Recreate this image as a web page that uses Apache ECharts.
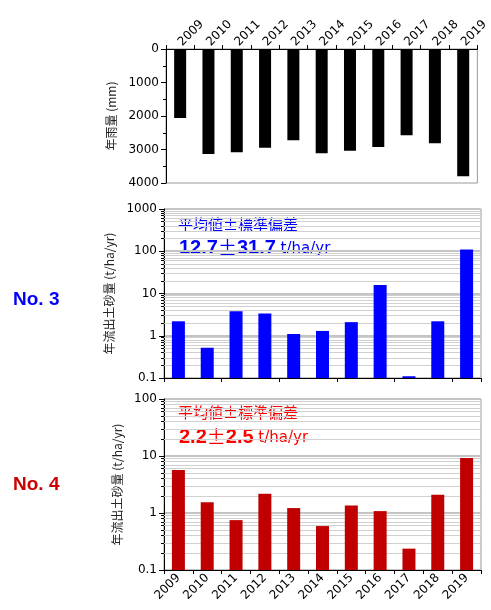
<!DOCTYPE html>
<html>
<head>
<meta charset="utf-8">
<script src="https://cdn.jsdelivr.net/npm/echarts@6/dist/echarts.min.js"></script>
<style>
html,body{margin:0;padding:0;background:#fff;}
#chart{width:491px;height:610px;}
</style>
</head>
<body>
<div id="chart"></div>
<script>
// Annual rainfall and sediment yield, 2009-2019
const years = ['2009','2010','2011','2012','2013','2014','2015','2016','2017','2018','2019'];
const rainfall = [2060, 3134, 3085, 2945, 2726, 3114, 3035, 2925, 2577, 2816, 3801];
const sedimentNo3 = [2.2, 0.52, 3.8, 3.36, 1.1, 1.3, 2.1, 16, 0.11, 2.2, 110];
const sedimentNo4 = [5.7, 1.55, 0.75, 2.17, 1.22, 0.59, 1.36, 1.08, 0.237, 2.09, 9.27];
const rainTicks = [0, 1000, 2000, 3000, 4000];
const logRangeNo3 = [0.1, 1000];
const logRangeNo4 = [0.1, 100];

const FONT = 'DejaVu Sans';
const CJK = 'Noto Sans CJK JP';

const chart = echarts.init(document.getElementById('chart'), null, {renderer: 'canvas'});

// values 2..9 × 10^n inside a log range (minor gridlines / ticks)
function minorValues(range) {
  const out = [];
  for (let d = range[0]; d < range[1] * 0.999; d *= 10) {
    for (let k = 2; k <= 9; k++) out.push(+(d * k).toPrecision(6));
  }
  return out;
}

function logYAxis(gridIndex, range) {
  return {
    type: 'log', logBase: 10, gridIndex,
    min: range[0], max: range[1], startValue: range[0],
    name: '年流出土砂量 (t/ha/yr)', nameLocation: 'middle', nameRotate: 90, nameGap: 40,
    nameTextStyle: {fontFamily: CJK, fontSize: 12, color: '#222'},
    axisLine: {show: true, lineStyle: {color: '#000', width: 1}},
    axisTick: {show: true, length: 5, lineStyle: {color: '#000'}},
    axisLabel: {fontFamily: FONT, fontSize: 12, color: '#000', margin: 7,
      formatter: v => String(+v.toPrecision(6))},
    splitLine: {show: true, lineStyle: {color: '#c4c4c4', width: 2}}
  };
}

// minor gridlines across the plot plus short minor ticks left of the axis
function minorMarks(range, axisX) {
  const vals = minorValues(range);
  const grid = vals.map(v => ({yAxis: v, lineStyle: {color: '#d0d0d0', width: 1, type: 'solid'}}));
  const ticks = vals.map(v => [
    {coord: [years[0], v], x: axisX - 3, lineStyle: {color: '#000', width: 1, type: 'solid'}},
    {coord: [years[0], v], x: axisX}
  ]);
  return {
    silent: true, symbol: ['none', 'none'], z: 1, animation: false,
    label: {show: false}, emphasis: {disabled: true},
    data: grid.concat(ticks)
  };
}

function textLine(top, mean, sd, color) {
  return {type: 'text', left: 179, top, style: {
    text: `{a|${mean}}{p|±}{a|${sd}}{b| t/ha/yr}`,
    rich: {
      a: {fontFamily: 'Liberation Sans', fontWeight: 'bold', fontSize: 20, fill: color, color},
      p: {fontFamily: CJK, fontSize: 19, fill: color, color},
      b: {fontFamily: 'DejaVu Sans', fontSize: 15, fill: color, color, padding: [3, 0, 0, 0]}
    }}};
}

chart.setOption({
  animation: false,
  backgroundColor: '#fff',
  grid: [
    {left: 166, right: 10, top: 49, height: 134, show: true, borderColor: '#999', borderWidth: 1},
    {left: 164, right: 10, top: 209, height: 169, show: true, borderColor: '#999', borderWidth: 1},
    {left: 164, right: 10, top: 399, height: 171, show: true, borderColor: '#999', borderWidth: 1}
  ],
  xAxis: [
    {
      type: 'category', data: years, gridIndex: 0, position: 'top',
      axisLine: {show: true, lineStyle: {color: '#000'}},
      axisTick: {show: true, length: 4, lineStyle: {color: '#000'}},
      axisLabel: {rotate: 45, fontFamily: FONT, fontSize: 12, color: '#000', margin: 5}
    },
    {
      type: 'category', data: years, gridIndex: 1, position: 'bottom',
      axisLine: {show: true, lineStyle: {color: '#000'}},
      axisTick: {show: true, length: 4, lineStyle: {color: '#000'}},
      axisLabel: {show: false}
    },
    {
      type: 'category', data: years, gridIndex: 2, position: 'bottom',
      axisLine: {show: true, lineStyle: {color: '#000'}},
      axisTick: {show: true, length: 4, lineStyle: {color: '#000'}},
      axisLabel: {rotate: 45, fontFamily: FONT, fontSize: 12, color: '#000', margin: 6}
    }
  ],
  yAxis: [
    {
      type: 'value', gridIndex: 0, inverse: true,
      min: rainTicks[0], max: rainTicks[rainTicks.length - 1], interval: 1000,
      name: '年雨量 (mm)', nameLocation: 'middle', nameRotate: 90, nameGap: 41,
      nameTextStyle: {fontFamily: CJK, fontSize: 12, color: '#222'},
      axisLine: {show: true, lineStyle: {color: '#000'}},
      axisTick: {show: true, length: 5, lineStyle: {color: '#000'}},
      minorTick: {show: true, splitNumber: 2, length: 3, lineStyle: {color: '#000'}},
      axisLabel: {fontFamily: FONT, fontSize: 12, color: '#000', margin: 7,
        formatter: v => String(v)},
      splitLine: {show: false}
    },
    logYAxis(1, logRangeNo3),
    logYAxis(2, logRangeNo4)
  ],
  series: [
    {type: 'bar', xAxisIndex: 0, yAxisIndex: 0, data: rainfall, barWidth: 12,
      itemStyle: {color: '#000'}},
    {type: 'bar', xAxisIndex: 1, yAxisIndex: 1, data: sedimentNo3, barWidth: 13,
      itemStyle: {color: '#0000ff'}, markLine: minorMarks(logRangeNo3, 164)},
    {type: 'bar', xAxisIndex: 2, yAxisIndex: 2, data: sedimentNo4, barWidth: 13,
      itemStyle: {color: '#c00000'}, markLine: minorMarks(logRangeNo4, 164)}
  ],
  graphic: [
    {type: 'text', left: 13, top: 290, style: {text: 'No. 3', fontFamily: 'Liberation Sans', fontWeight: 'bold', fontSize: 19, fill: '#0000ff'}},
    {type: 'text', left: 13, top: 475, style: {text: 'No. 4', fontFamily: 'Liberation Sans', fontWeight: 'bold', fontSize: 19, fill: '#cc0000'}},
    {type: 'text', left: 178, top: 217, style: {text: '平均値±標準偏差', fontFamily: CJK, fontSize: 15, fill: '#0000ff'}},
    textLine(238, '12.7', '31.7', '#0000ff'),
    {type: 'text', left: 178, top: 405, style: {text: '平均値±標準偏差', fontFamily: CJK, fontSize: 15, fill: '#ff0000'}},
    textLine(427, '2.2', '2.5', '#ff0000')
  ]
});
</script>
</body>
</html>
